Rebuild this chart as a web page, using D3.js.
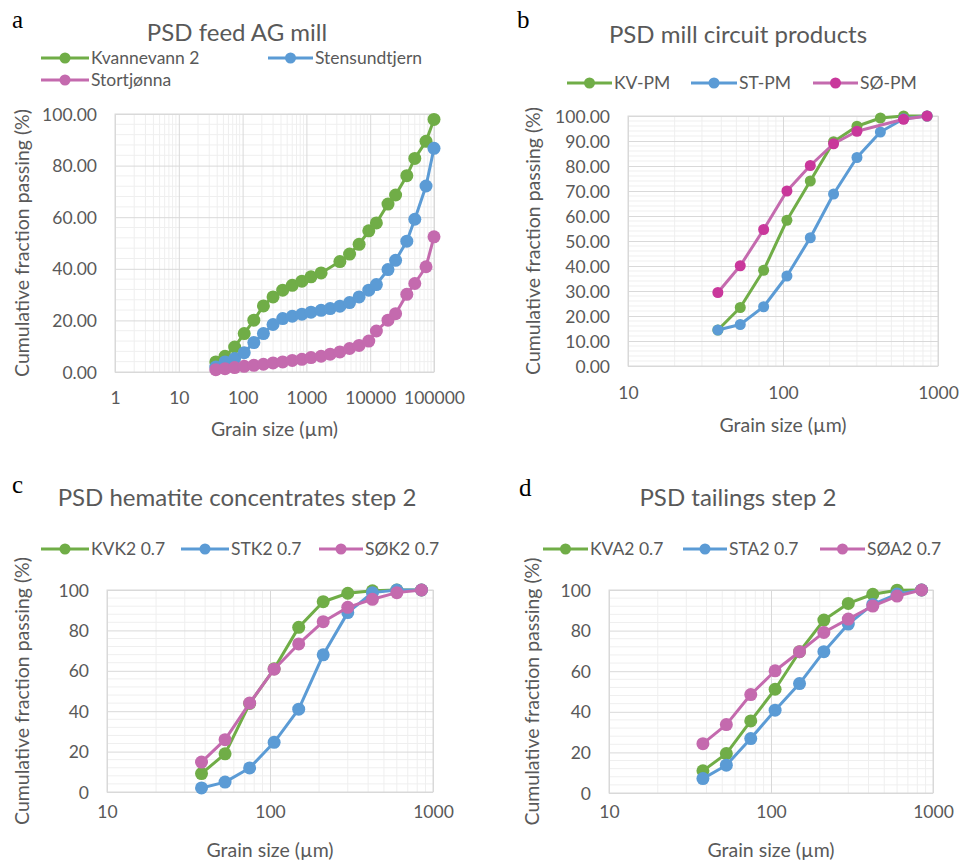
<!DOCTYPE html>
<html>
<head>
<meta charset="utf-8">
<script src="https://cdn.jsdelivr.net/npm/d3@7"></script>
<style>
  html, body { margin: 0; padding: 0; background: #fff; }
  svg { display: block; }
  text { font-family: Lato, "Open Sans", sans-serif; fill: #595959; }
</style>
</head>
<body>
<svg id="chart" width="962" height="864"></svg>
<script>
// ---------- DATA ----------
const sizesFeed = [38, 53, 75, 106, 150, 212, 300, 425, 600, 850, 1180, 1700, 2360, 3350, 4750, 6700, 9500, 12500, 19000, 25000, 37500, 50000, 75000, 100000];
const feedKvannevann = [3.9, 6.1, 9.7, 14.9, 20.1, 25.6, 29.1, 31.7, 33.6, 35.2, 36.9, 38.4, null, 42.8, 45.7, 49.5, 54.7, 57.8, 65.1, 68.6, 76.1, 82.8, 89.4, 97.9];
const feedStensundtjern = [1.9, 3.9, 5.2, 7.5, 11.4, 14.9, 18.4, 20.7, 21.6, 22.4, 23.2, 23.9, 24.6, 25.5, 26.9, 29.1, 31.7, 33.9, 39.7, 43.3, 50.7, 59.2, 72.1, 86.7];
const feedStortjonna = [0.9, 1.3, 1.7, 2.2, 2.6, 3.0, 3.5, 3.9, 4.5, 4.9, 5.6, 6.1, 6.9, 7.8, 9.1, 10.3, 12.0, 15.9, 20.1, 22.6, 30.1, 34.3, 40.8, 52.4];

const sizesSieve = [38, 53, 75, 106, 150, 212, 300, 425, 600, 850];
const pmKV = [14.4, 23.4, 38.3, 58.3, 74.0, 89.7, 95.9, 99.2, 100, 100];
const pmST = [14.4, 16.6, 23.7, 36.0, 51.3, 68.8, 83.4, 93.6, 98.9, 100];
const pmSO = [29.4, 40.1, 54.6, 70.0, 80.2, 88.9, 93.9, null, 98.7, 100];

const concKVK2 = [9.1, 18.9, 43.8, 61.0, 81.5, 94.2, 98.4, 99.6, 100, 100];
const concSTK2 = [2.0, 4.9, 11.9, 24.6, 41.0, 67.9, 88.8, 98.7, 100, 100];
const concSOK2 = [14.8, 25.9, 44.0, 60.8, 73.3, 84.3, 91.4, 95.4, 98.7, 100];

const tailKVA2 = [10.9, 19.4, 35.5, 51.1, 69.6, 85.2, 93.4, 97.9, 99.9, 100];
const tailSTA2 = [7.1, 13.7, 26.8, 40.8, 53.9, 69.6, 83.2, 92.9, 98.0, 100];
const tailSOA2 = [24.3, 33.7, 48.5, 60.2, 69.6, 79.1, 85.7, 92.1, 97.0, 100];

const titles = ["PSD feed AG mill", "PSD mill circuit products", "PSD hematite concentrates step 2", "PSD tailings step 2"];
const panelLetters = ["a", "b", "c", "d"];
const namesFeed = ["Kvannevann 2", "Stensundtjern", "Stortjønna"];
const namesPM = ["KV-PM", "ST-PM", "SØ-PM"];
const namesConc = ["KVK2 0.7", "STK2 0.7", "SØK2 0.7"];
const namesTail = ["KVA2 0.7", "STA2 0.7", "SØA2 0.7"];
const xTicksFeed = [1, 10, 100, 1000, 10000, 100000];
const xTicksSieve = [10, 100, 1000];
const yTicks20 = [0, 20, 40, 60, 80, 100];
const yTicks10 = [0, 10, 20, 30, 40, 50, 60, 70, 80, 90, 100];
const xTitle = "Grain size (µm)";
const yTitle = "Cumulative fraction passing (%)";

// ---------- STYLE / LAYOUT ----------
const GREEN = "#70ad47", BLUE = "#5b9bd5", PINK = "#c46aae", MAGENTA = "#c9379b";
const TICK_FS = "17.5px", LEG_FS = "17.5px", TITLE_FS = "24px", AXT_FS = "19.5px";

const panels = [
  {
    letter: panelLetters[0], letterPos: [12, 28],
    title: titles[0], titlePos: [237, 41],
    x0: 115, x1: 434, y0: 372, y1: 114,
    xDomain: [1, 100000], xTicks: xTicksFeed, yTicks: yTicks20, yMinor: 4, yFmt: d3.format(".2f"),
    sizes: sizesFeed, r: 6.5,
    series: [
      { name: namesFeed[0], values: feedKvannevann, line: GREEN, mark: GREEN },
      { name: namesFeed[1], values: feedStensundtjern, line: BLUE, mark: BLUE },
      { name: namesFeed[2], values: feedStortjonna, line: PINK, mark: PINK }
    ],
    legend: [[41, 89, 58], [268, 313, 58], [41, 89, 80]],
    xLabelY: 404, xTitleY: 436, yTitleX: 22
  },
  {
    letter: panelLetters[1], letterPos: [517, 28],
    title: titles[1], titlePos: [738, 43],
    x0: 628, x1: 938, y0: 366, y1: 116,
    xDomain: [10, 1000], xTicks: xTicksSieve, yTicks: yTicks10, yMinor: 2, yFmt: d3.format(".2f"),
    sizes: sizesSieve, r: 5.5,
    series: [
      { name: namesPM[0], values: pmKV, line: GREEN, mark: GREEN },
      { name: namesPM[1], values: pmST, line: BLUE, mark: BLUE },
      { name: namesPM[2], values: pmSO, line: PINK, mark: MAGENTA }
    ],
    legend: [[567, 612, 83], [691, 737, 83], [813, 858, 83]],
    xLabelY: 399, xTitleY: 432, yTitleX: 533
  },
  {
    letter: panelLetters[2], letterPos: [12, 493],
    title: titles[2], titlePos: [237, 506],
    x0: 107, x1: 433, y0: 792, y1: 590,
    xDomain: [10, 1000], xTicks: xTicksSieve, yTicks: yTicks20, yMinor: 4, yFmt: d3.format("d"),
    sizes: sizesSieve, r: 6.5,
    series: [
      { name: namesConc[0], values: concKVK2, line: GREEN, mark: GREEN },
      { name: namesConc[1], values: concSTK2, line: BLUE, mark: BLUE },
      { name: namesConc[2], values: concSOK2, line: PINK, mark: PINK }
    ],
    legend: [[41, 89, 549], [181, 229, 549], [319, 363, 549]],
    xLabelY: 818, xTitleY: 857, yTitleX: 22
  },
  {
    letter: panelLetters[3], letterPos: [519, 496],
    title: titles[3], titlePos: [738, 506],
    x0: 609, x1: 933, y0: 793, y1: 590,
    xDomain: [10, 1000], xTicks: xTicksSieve, yTicks: yTicks20, yMinor: 4, yFmt: d3.format("d"),
    sizes: sizesSieve, r: 6.5,
    series: [
      { name: namesTail[0], values: tailKVA2, line: GREEN, mark: GREEN },
      { name: namesTail[1], values: tailSTA2, line: BLUE, mark: BLUE },
      { name: namesTail[2], values: tailSOA2, line: PINK, mark: PINK }
    ],
    legend: [[543, 588, 549], [683, 727, 549], [820, 865, 549]],
    xLabelY: 818, xTitleY: 857, yTitleX: 532
  }
];

const svg = d3.select("#chart");

panels.forEach(p => {
  const g = svg.append("g");
  const x = d3.scaleLog().domain(p.xDomain).range([p.x0, p.x1]);
  const y = d3.scaleLinear().domain([0, 100]).range([p.y0, p.y1]);

  // panel letter
  g.append("text").attr("x", p.letterPos[0]).attr("y", p.letterPos[1])
    .style("font-family", "'Liberation Serif', 'DejaVu Serif', serif")
    .style("fill", "#000").style("font-size", "25px").text(p.letter);

  // title
  g.append("text").attr("x", p.titlePos[0]).attr("y", p.titlePos[1])
    .attr("text-anchor", "middle").style("font-size", TITLE_FS).text(p.title);

  // minor x gridlines
  const decades = d3.range(Math.log10(p.xDomain[0]), Math.log10(p.xDomain[1]));
  const minorX = [];
  decades.forEach(dec => { for (let k = 2; k <= 9; k++) minorX.push(k * Math.pow(10, dec)); });
  g.append("g").selectAll("line").data(minorX).join("line")
    .attr("x1", d => x(d)).attr("x2", d => x(d)).attr("y1", p.y0).attr("y2", p.y1)
    .attr("stroke", "#efefef").attr("stroke-width", 1);

  // minor y gridlines
  const minorY = d3.range(0, 100.001, p.yMinor).filter(v => !p.yTicks.includes(v));
  g.append("g").selectAll("line").data(minorY).join("line")
    .attr("x1", p.x0).attr("x2", p.x1).attr("y1", d => y(d)).attr("y2", d => y(d))
    .attr("stroke", "#efefef").attr("stroke-width", 1);

  // major gridlines via axes
  const xGrid = d3.axisBottom(x).tickValues(p.xTicks).tickSize(-(p.y0 - p.y1)).tickFormat("");
  g.append("g").attr("transform", `translate(0,${p.y0})`).call(xGrid)
    .call(s => s.select(".domain").remove())
    .call(s => s.selectAll("line").attr("stroke", "#d9d9d9"));
  const yGrid = d3.axisLeft(y).tickValues(p.yTicks).tickSize(-(p.x1 - p.x0)).tickFormat("");
  g.append("g").attr("transform", `translate(${p.x0},0)`).call(yGrid)
    .call(s => s.select(".domain").remove())
    .call(s => s.selectAll("line").attr("stroke", "#d9d9d9"));

  // border
  g.append("rect").attr("x", p.x0).attr("y", p.y1).attr("width", p.x1 - p.x0).attr("height", p.y0 - p.y1)
    .attr("fill", "none").attr("stroke", "#d9d9d9").attr("stroke-width", 1);

  // tick labels
  const xAx = d3.axisBottom(x).tickValues(p.xTicks).tickSize(0).tickFormat(d3.format("d"));
  const xa = g.append("g").attr("transform", `translate(0,${p.y0})`).call(xAx);
  xa.select(".domain").remove();
  xa.selectAll("text").attr("dy", null).attr("y", p.xLabelY - p.y0)
    .style("font-size", TICK_FS).style("font-family", "Lato, sans-serif").attr("fill", "#595959");

  const yAx = d3.axisLeft(y).tickValues(p.yTicks).tickSize(0).tickPadding(18).tickFormat(p.yFmt);
  const ya = g.append("g").attr("transform", `translate(${p.x0},0)`).call(yAx);
  ya.select(".domain").remove();
  ya.selectAll("text").attr("dy", "0.35em")
    .style("font-size", TICK_FS).style("font-family", "Lato, sans-serif").attr("fill", "#595959");

  // axis titles
  g.append("text").attr("x", (p.x0 + p.x1) / 2).attr("y", p.xTitleY)
    .attr("text-anchor", "middle").style("font-size", AXT_FS).text(xTitle);
  g.append("text").attr("transform", `translate(${p.yTitleX + 7},${(p.y0 + p.y1) / 2}) rotate(-90)`)
    .attr("text-anchor", "middle").style("font-size", AXT_FS).text(yTitle);

  // series
  const line = d3.line().x(d => x(d[0])).y(d => y(d[1]));
  p.series.forEach(s => {
    const pts = p.sizes.map((sz, i) => [sz, s.values[i]]).filter(d => d[1] !== null);
    g.append("path").datum(pts).attr("d", line)
      .attr("fill", "none").attr("stroke", s.line).attr("stroke-width", 3).attr("stroke-linejoin", "round");
    g.append("g").selectAll("circle").data(pts).join("circle")
      .attr("cx", d => x(d[0])).attr("cy", d => y(d[1])).attr("r", p.r).attr("fill", s.mark);
  });

  // legend
  p.series.forEach((s, i) => {
    const [lx0, lx1, ly] = p.legend[i];
    g.append("line").attr("x1", lx0).attr("x2", lx1).attr("y1", ly).attr("y2", ly)
      .attr("stroke", s.line).attr("stroke-width", 3);
    g.append("circle").attr("cx", (lx0 + lx1) / 2).attr("cy", ly).attr("r", 5.5).attr("fill", s.mark);
    g.append("text").attr("x", lx1 + 2).attr("y", ly).attr("dy", "0.35em")
      .style("font-size", LEG_FS).text(s.name);
  });
});
</script>
</body>
</html>
